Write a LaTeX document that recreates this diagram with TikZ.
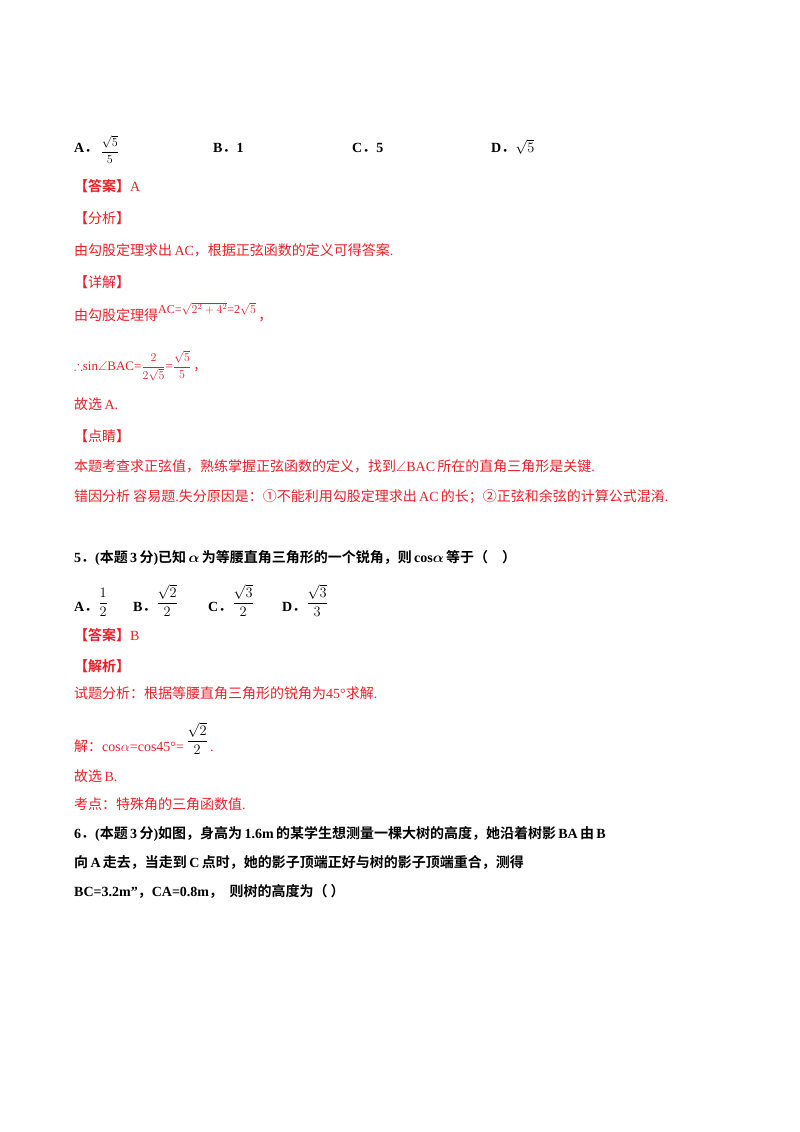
\documentclass[tikz,border=0pt]{standalone}
\usepackage{fontspec}
\usepackage{amsmath,amssymb}
\setmainfont{Liberation Serif}
\newfontfamily\cjk{Noto Sans CJK SC}[BoldFont={Noto Sans CJK SC Bold}]
\definecolor{ansred}{RGB}{235,30,40}
\newcommand{\zh}[1]{{\cjk #1}}
\newcommand{\sz}[1]{\fontsize{#1}{#1}\selectfont}
\begin{document}
\begin{tikzpicture}[x=1pt,y=-1pt,
  ln/.style={anchor=base west,inner sep=0pt,font=\fontsize{14}{16}\selectfont},
  rd/.style={ln,text=ansred},
  bl/.style={ln,text=black,font=\fontsize{14}{16}\selectfont\bfseries}]
\useasboundingbox (0,0) rectangle (800,1132);
\node[bl] (a1) at (74,152) {A\zh{．}\,\raisebox{-3pt}{\sz{12}$\dfrac{\sqrt{5}}{5}$}};
\node[bl] (b1) at (213,152) {B\zh{．}1};
\node[bl] (c1) at (352,152) {C\zh{．}5};
\node[bl] (d1) at (491,152) {D\zh{．}$\sqrt{5}$};
\node[rd] (l1) at (74,191) {\zh{\textbf{【答案】}}A};
\node[rd] (l2) at (74,223) {\zh{【分析】}};
\node[rd] (l3) at (74,255) {\zh{由勾股定理求出}\,AC\zh{，根据正弦函数的定义可得答案}.};
\node[rd] (l4) at (74,287) {\zh{【详解】}};
\node[rd] (l5) at (74,320) {\zh{由勾股定理得}\raisebox{7pt}{\sz{12}AC=$\sqrt{2^2+4^2}$=2$\sqrt{5}$}\,\zh{，}};
\node[rd] (l6) at (74,370) {\sz{13}$\therefore$sin$\angle$BAC=$\dfrac{2}{2\sqrt5}$=$\dfrac{\sqrt5}{5}$\,\zh{，}};
\node[rd] (l7) at (74,409) {\zh{故选}\,A.};
\node[rd] (l8) at (74,441) {\zh{【点睛】}};
\node[rd] (l9) at (74,471) {\zh{本题考查求正弦值，熟练掌握正弦函数的定义，找到}$\angle$BAC\,\zh{所在的直角三角形是关键}.};
\node[rd] (l10) at (74,501) {\zh{错因分析\ 容易题}.\zh{失分原因是：①不能利用勾股定理求出}\,AC\,\zh{的长；②正弦和余弦的计算公式混淆}.};
\node[bl] (q5) at (74,562) {5\zh{．}(\zh{本题}\,3\,\zh{分})\zh{已知}\,$\boldsymbol\alpha$\,\zh{为等腰直角三角形的一个锐角，则}\,cos$\boldsymbol\alpha$\,\zh{等于（\quad）}};
\node[bl] (o5a) at (74,611) {A\zh{．}\raisebox{4pt}{$\dfrac{1}{2}$}};
\node[bl] (o5b) at (133,611) {B\zh{．}\raisebox{4pt}{$\dfrac{\sqrt2}{2}$}};
\node[bl] (o5c) at (208,611) {C\zh{．}\raisebox{4pt}{$\dfrac{\sqrt3}{2}$}};
\node[bl] (o5d) at (282,611) {D\zh{．}\raisebox{4pt}{$\dfrac{\sqrt3}{3}$}};
\node[rd] (m1) at (74,640) {\zh{\textbf{【答案】}}B};
\node[rd] (m2) at (74,671) {\zh{\textbf{【解析】}}};
\node[rd] (m3) at (74,698) {\zh{试题分析：根据等腰直角三角形的锐角为}45°\zh{求解}.};
\node[rd] (m4) at (74,751) {\zh{解：}cos$\alpha$=cos45°=\,\raisebox{6pt}{\color{black}$\dfrac{\sqrt2}{2}$}\,.};
\node[rd] (m5) at (74,781) {\zh{故选}\,B.};
\node[rd] (m6) at (74,809) {\zh{考点：特殊角的三角函数值}.};
\node[bl] (q6a) at (74,838) {6\zh{．}(\zh{本题}\,3\,\zh{分})\zh{如图，身高为}\,1.6m\,\zh{的某学生想测量一棵大树的高度，她沿着树影}\,BA\,\zh{由}\,B};
\node[bl] (q6b) at (74,867) {\zh{向}\,A\,\zh{走去，当走到}\,C\,\zh{点时，她的影子顶端正好与树的影子顶端重合，测得}};
\node[bl] (q6c) at (74,896) {BC=3.2m"\zh{，}CA=0.8m\zh{，\ \ 则树的高度为（\ ）}};
\end{tikzpicture}
\end{document}
